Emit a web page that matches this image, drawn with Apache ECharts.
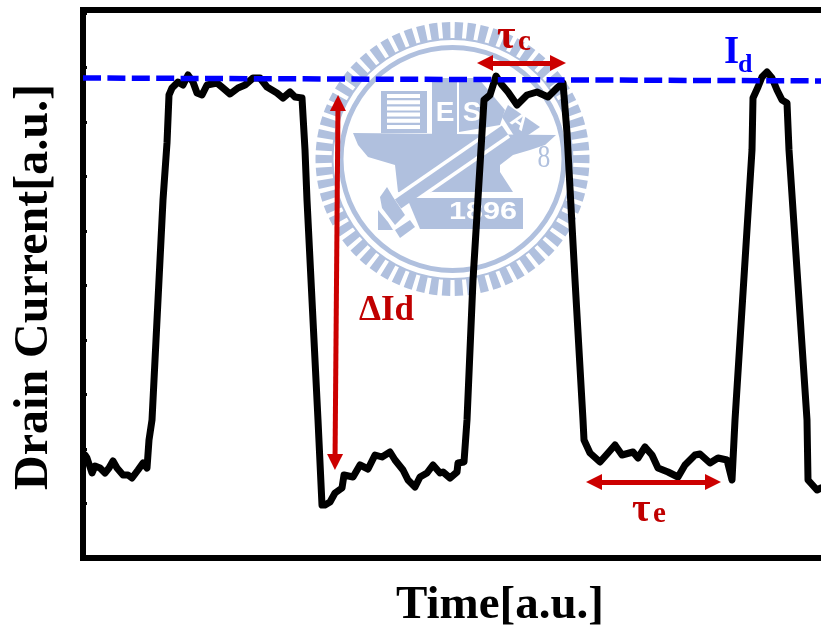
<!DOCTYPE html>
<html><head><meta charset="utf-8">
<style>html,body{margin:0;padding:0;background:#fff}#c{width:821px;height:633px}</style>
<script src="https://cdn.jsdelivr.net/npm/echarts@6/dist/echarts.min.js"></script>
</head><body><div id="c"></div>
<script>
const xAxisTitle = 'Time[a.u.]';
const yAxisTitle = 'Drain Current[a.u.]';
const timeAU = [2,4,9,12,17,22,26,30,34,40,45,49,55,60,64,66,69,80,84,86,89,95,100,105,110,114,119,124,134,140,147,155,162,170,177,184,194,200,207,212,219,222,224,235,239,242,247,252,259,261,270,277,285,292,299,307,312,320,325,332,337,344,350,357,360,367,374,375,381,384,390,401,407,413,419,425,434,444,454,465,474,480,484,492,500,501,507,517,525,532,539,550,555,562,569,575,585,595,602,612,617,627,635,644,649,652,669,670,675,679,684,689,694,699,704,706,724,725,734,738,743];
const currentAU = [103,100,85,92,90,85,90,97,90,83,83,80,88,95,90,118,138,358,415,463,470,476,473,483,476,465,463,473,475,470,464,470,473,480,480,471,465,460,466,461,460,408,358,138,53,53,56,65,70,83,81,93,89,103,101,106,98,88,78,71,81,85,93,85,86,80,86,95,96,138,278,458,463,482,473,466,453,463,466,461,470,475,425,278,138,118,105,96,105,113,103,106,100,111,103,90,86,81,93,103,104,95,100,98,78,138,408,460,471,481,486,480,468,458,455,408,138,78,68,70,72];
const idLevelTime = [0,760];
const idLevelCurrent = [480,477];
const deltaIdArrow = [[255,455],[252,96]];
const tauCArrow = [[402,495],[475,495]];
const tauEArrow = [[511,76],[630,76]];

const W = '#b0c0de';
// ---- watermark artwork (decoration, not data) ----
const poly = (pts,fill)=>({type:'polygon',silent:true,z:0,shape:{points:pts},style:{fill}});
const bar = (a,b,w,col)=>({type:'line',silent:true,z:0,shape:{x1:a[0],y1:a[1],x2:b[0],y2:b[1]},style:{stroke:col,lineWidth:w}});
const wm = [];
const cx=452.5, cy=159;
for(let i=0;i<66;i++){
  const a=i/66*Math.PI*2, d=0.031;
  wm.push({type:'sector',silent:true,z:0,shape:{cx,cy,r0:120,r:137,startAngle:a-d,endAngle:a+d},style:{fill:W}});
}
wm.push({type:'ring',silent:true,z:0,shape:{cx,cy,r:121,r0:119},style:{fill:W}});
wm.push({type:'ring',silent:true,z:0,shape:{cx,cy,r:114,r0:109},style:{fill:W}});
wm.push(poly([[353,133],[556,135],[545,145],[530,150],[513,155],[500,165],[500,172],[513,192],[432,192],[412,196],[398,192],[395,165],[368,157],[358,145]],W));
wm.push(bar([398,204],[505,130],18,'#fff'));
wm.push(bar([398,204],[505,130],11,W));
wm.push(poly([[407,198],[523,198],[523,229],[420,229]],W));
wm.push(poly([[387,187],[380,197],[382,208],[395,225],[405,215],[393,197]],W));
wm.push(poly([[378,210],[378,230],[393,230],[388,222]],W));
wm.push(poly([[395,230],[410,220],[415,227],[400,238]],W));
wm.push(poly([[381,91],[427,91],[427,133],[381,133]],W));
for(let i=0;i<6;i++){ wm.push(bar([387,96+i*6.2],[420,96+i*6.2],4,'#fff')); }
wm.push(poly([[432,78],[457,78],[457,134],[432,134]],W));
wm.push(poly([[459,78],[478,78],[505,110],[500,125],[459,132]],W));
wm.push(poly([[508,105],[540,127],[518,142],[502,117]],W));
const wmText=(t,x,y,fs,rot,sx)=>({type:'text',silent:true,z:0,x,y,rotation:rot||0,scaleX:sx||1,style:{text:t,fill:'#fff',font:'bold '+fs+'px "Liberation Sans"',align:'center',verticalAlign:'middle'}});
wm.push(wmText('E',445,113,28));
wm.push(wmText('S',472,113,28));
wm.push(wmText('A',519,122,22,-0.6));
wm.push(wmText('1896',483,213,23,0,1.33));
wm.push({type:'text',silent:true,z:0,x:544,y:159,scaleX:0.8,style:{text:'8',fill:W,font:'32px "Liberation Serif"',align:'center',verticalAlign:'middle'}});

const labelFont=(s)=>'bold '+s+'px "Liberation Serif"';
const label=(t,x,base,size,fill)=>({type:'text',silent:true,z:10,x,y:base+Math.round(size*0.2),
  style:{text:t,fill,font:labelFont(size),align:'left',verticalAlign:'bottom'}});
const labels=[
  label('τ',497,50,40,'#c00000'),label('c',518,51,29,'#c00000'),
  label('τ',632,523,40,'#c00000'),label('e',653,523,29,'#c00000'),
  label('ΔId',359,321,35,'#c00000'),
  label('I',724,64,39,'#0000ff'),label('d',738,73,26,'#0000ff')
];

const arrowSeries=(pts)=>({type:'line',data:[],silent:true,z:6,
  markLine:{silent:true,animation:false,symbol:['triangle','triangle'],symbolSize:[16,16],label:{show:false},
    lineStyle:{color:'#cc0000',width:5,type:'solid',opacity:1},itemStyle:{color:'#cc0000'},
    data:[[{coord:pts[0]},{coord:pts[1]}]]}});

const chart = echarts.init(document.getElementById('c'),null,{renderer:'canvas'});
chart.setOption({
  animation:false,
  backgroundColor:'#fff',
  grid:{left:83,top:10,width:834,height:548,outerBoundsMode:'none',show:true,borderWidth:6,borderColor:'#000',backgroundColor:'transparent',z:1},
  xAxis:{type:'value',min:0,max:834,splitLine:{show:false},axisLabel:{show:false},axisTick:{show:false},axisLine:{show:false},
    name:xAxisTitle,nameLocation:'middle',nameGap:24,
    nameTextStyle:{fontFamily:'Liberation Serif',fontWeight:'bold',fontSize:47,color:'#000'}},
  yAxis:{type:'value',min:0,max:548,interval:54.5,splitLine:{show:false},axisLabel:{show:false},
    axisTick:{show:true,inside:true,length:4,lineStyle:{color:'#000',width:3}},axisLine:{show:false},
    name:yAxisTitle,nameLocation:'middle',nameGap:24,
    nameTextStyle:{fontFamily:'Liberation Serif',fontWeight:'bold',fontSize:48,color:'#000',padding:[0,6,0,0]}},
  graphic:{elements:wm.concat(labels)},
  series:[
    {type:'line',name:'Drain current',data:timeAU.map((t,i)=>[t,currentAU[i]]),showSymbol:false,symbol:'none',smooth:false,z:3,
      lineStyle:{color:'#000',width:7,join:'round',cap:'round'}},
    {type:'line',name:'Id',data:idLevelTime.map((t,i)=>[t,idLevelCurrent[i]]),showSymbol:false,symbol:'none',z:4,
      lineStyle:{color:'#0000ff',width:5.5,type:[18,6.4]}},
    arrowSeries(deltaIdArrow),arrowSeries(tauCArrow),arrowSeries(tauEArrow)
  ]
});
</script></body></html>
